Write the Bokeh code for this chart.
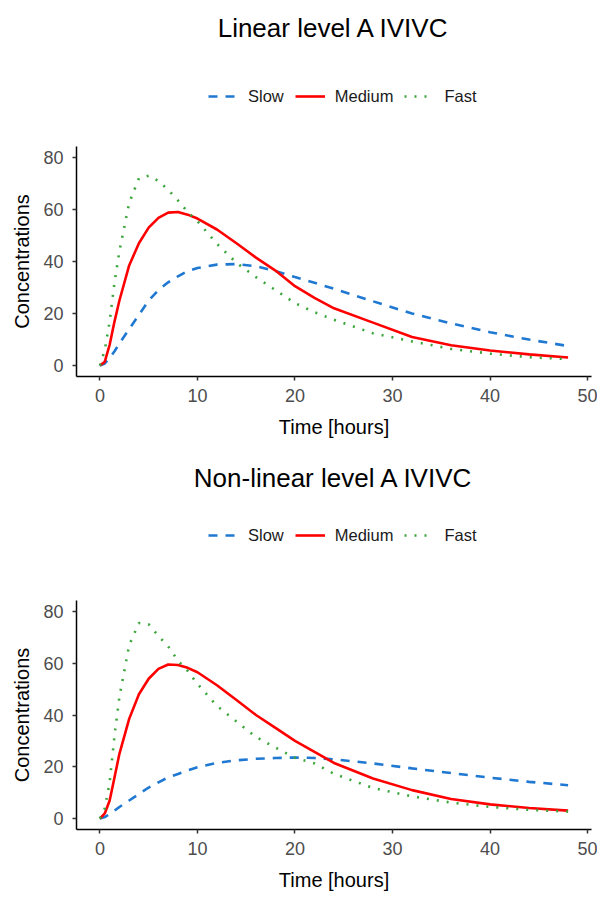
from bokeh.plotting import figure
from bokeh.models import Range1d, Legend, LegendItem, Label
from bokeh.layouts import column
from bokeh.embed import file_html
from bokeh.resources import INLINE

# ---- data ----
time_h = [0, 0.5, 1, 1.5, 2, 3, 4, 5, 6, 7, 8, 9, 10, 12, 14, 16, 18, 20, 22, 24, 28, 32, 36, 40, 44, 48]

lin_slow = [0, 0.8, 3, 5.5, 8.5, 14, 19.5, 25, 29, 32, 34.3, 36.3, 37.5, 38.8, 39, 38.2, 36.3, 34, 31.8, 29.5, 24.7, 20, 16.2, 12.8, 10, 7.5]
lin_medium = [0, 1.5, 8, 17, 25, 38.5, 47, 53, 56.8, 58.8, 59, 58, 56.5, 52.3, 47, 41.5, 36.5, 30.5, 26, 22, 16.5, 11, 7.8, 5.8, 4.3, 3.1]
lin_fast = [0, 6, 17, 32, 44, 62.5, 72, 73, 71, 67.5, 63.5, 59, 55.5, 46.8, 39.5, 34, 29, 24, 20.5, 17.6, 12.4, 9.3, 6.4, 4.6, 3.2, 2.5]

nl_slow = [0, 0.6, 1.8, 3.1, 4.5, 7, 9.5, 12, 14, 15.9, 17.2, 18.6, 19.8, 21.5, 22.5, 23.1, 23.4, 23.6, 23.4, 22.9, 21.3, 19.4, 17.6, 15.8, 14.2, 12.9]
nl_medium = [0, 2, 7, 16, 25, 38.5, 48, 54, 57.8, 59.5, 59.3, 58.2, 56.5, 51.5, 45.8, 40, 35, 30, 25.8, 21.5, 15.5, 11, 7.6, 5.5, 4.1, 3.1]
nl_fast = [0, 4, 14, 32, 47, 67, 75.5, 75, 70.5, 66.5, 61, 57, 52, 43.5, 37.5, 31.5, 27.4, 23.5, 21.3, 17.3, 11.8, 8.6, 6.2, 4.5, 3.4, 2.7]

series_labels = ["Slow", "Medium", "Fast"]
x_ticks = [0, 10, 20, 30, 40, 50]
y_ticks = [0, 20, 40, 60, 80]
titles = ["Linear level A IVIVC", "Non-linear level A IVIVC"]
X_MIN, X_MAX = -2.4, 50.4
Y_MIN, Y_MAX = -4.2, 84.2

FONT = "Liberation Sans"
COLORS = ["#1F78D1", "#FF0000", "#3BA53B"]
DASHES = ["9 8", "solid", "2 8"]
LW = 2.6
W = 597
BORDER_L, BORDER_R = 76, 6


def header(title, ys, height, title_y, legend_y):
    # title + legend strip; x shares the panel's data scale, y is in pixels
    h = figure(width=W, height=height, x_range=Range1d(X_MIN, X_MAX), y_range=Range1d(0, height),
               output_backend="svg", toolbar_location=None,
               x_axis_location=None, y_axis_location=None,
               min_border_left=BORDER_L, min_border_right=BORDER_R,
               min_border_top=0, min_border_bottom=0)
    h.outline_line_color = None
    h.xgrid.visible = False
    h.ygrid.visible = False
    h.add_layout(Label(x=(X_MIN + X_MAX) / 2, y=title_y, text=title, text_align="center",
                       text_baseline="middle", text_font=FONT, text_font_size="26px",
                       text_color="black"))
    items = []
    for lab, y, c, d in zip(series_labels, ys, COLORS, DASHES):
        r = h.line(time_h, y, line_color=c, line_width=LW, line_dash=d, visible=False)
        items.append(LegendItem(label=lab, renderers=[r]))
    leg = Legend(items=items, orientation="horizontal", location=(132, legend_y),
                 glyph_width=30, glyph_height=20, label_height=20,
                 label_standoff=10, spacing=11,
                 padding=0, margin=0, border_line_color=None,
                 background_fill_alpha=0, click_policy="none",
                 label_text_font=FONT, label_text_font_size="16.5px",
                 label_text_color="#1A1A1A")
    h.add_layout(leg, "center")
    return h


def main(ys, height, border_top, border_bottom):
    p = figure(width=W, height=height,
               x_range=Range1d(X_MIN, X_MAX), y_range=Range1d(Y_MIN, Y_MAX),
               output_backend="svg", toolbar_location=None,
               min_border_left=BORDER_L, min_border_right=BORDER_R,
               min_border_top=border_top, min_border_bottom=border_bottom)
    p.outline_line_color = None
    p.xgrid.visible = False
    p.ygrid.visible = False
    for y, c, d in zip(ys, COLORS, DASHES):
        p.line(time_h, y, line_color=c, line_width=LW, line_dash=d)

    for ax in (p.xaxis[0], p.yaxis[0]):
        ax.axis_line_color = "black"
        ax.axis_line_width = 1.5
        ax.major_tick_line_color = "#333333"
        ax.major_tick_line_width = 1.5
        ax.major_tick_out = 4
        ax.major_tick_in = 0
        ax.minor_tick_line_color = None
        ax.major_label_text_font = FONT
        ax.major_label_text_font_size = "18px"
        ax.major_label_text_color = "#4D4D4D"
        ax.axis_label_text_font = FONT
        ax.axis_label_text_font_size = "20px"
        ax.axis_label_text_font_style = "normal"
        ax.axis_label_text_color = "black"
    p.xaxis.ticker = x_ticks
    p.yaxis.ticker = y_ticks
    p.xaxis.major_label_standoff = 8
    p.yaxis.major_label_standoff = 9
    p.xaxis.axis_label = "Time [hours]"
    p.yaxis.axis_label = "Concentrations"
    p.xaxis.axis_label_standoff = 11
    p.yaxis.axis_label_standoff = 7
    return p


h1 = header(titles[0], [lin_slow, lin_medium, lin_fast], 141, 114, 35)
m1 = main([lin_slow, lin_medium, lin_fast], 308, 5, 73)
h2 = header(titles[1], [nl_slow, nl_medium, nl_fast], 146, 118, 50)
m2 = main([nl_slow, nl_medium, nl_fast], 303, 5, 69)
layout = column(h1, m1, h2, m2, spacing=0)

open("out.html", "w").write(file_html(layout, INLINE))
